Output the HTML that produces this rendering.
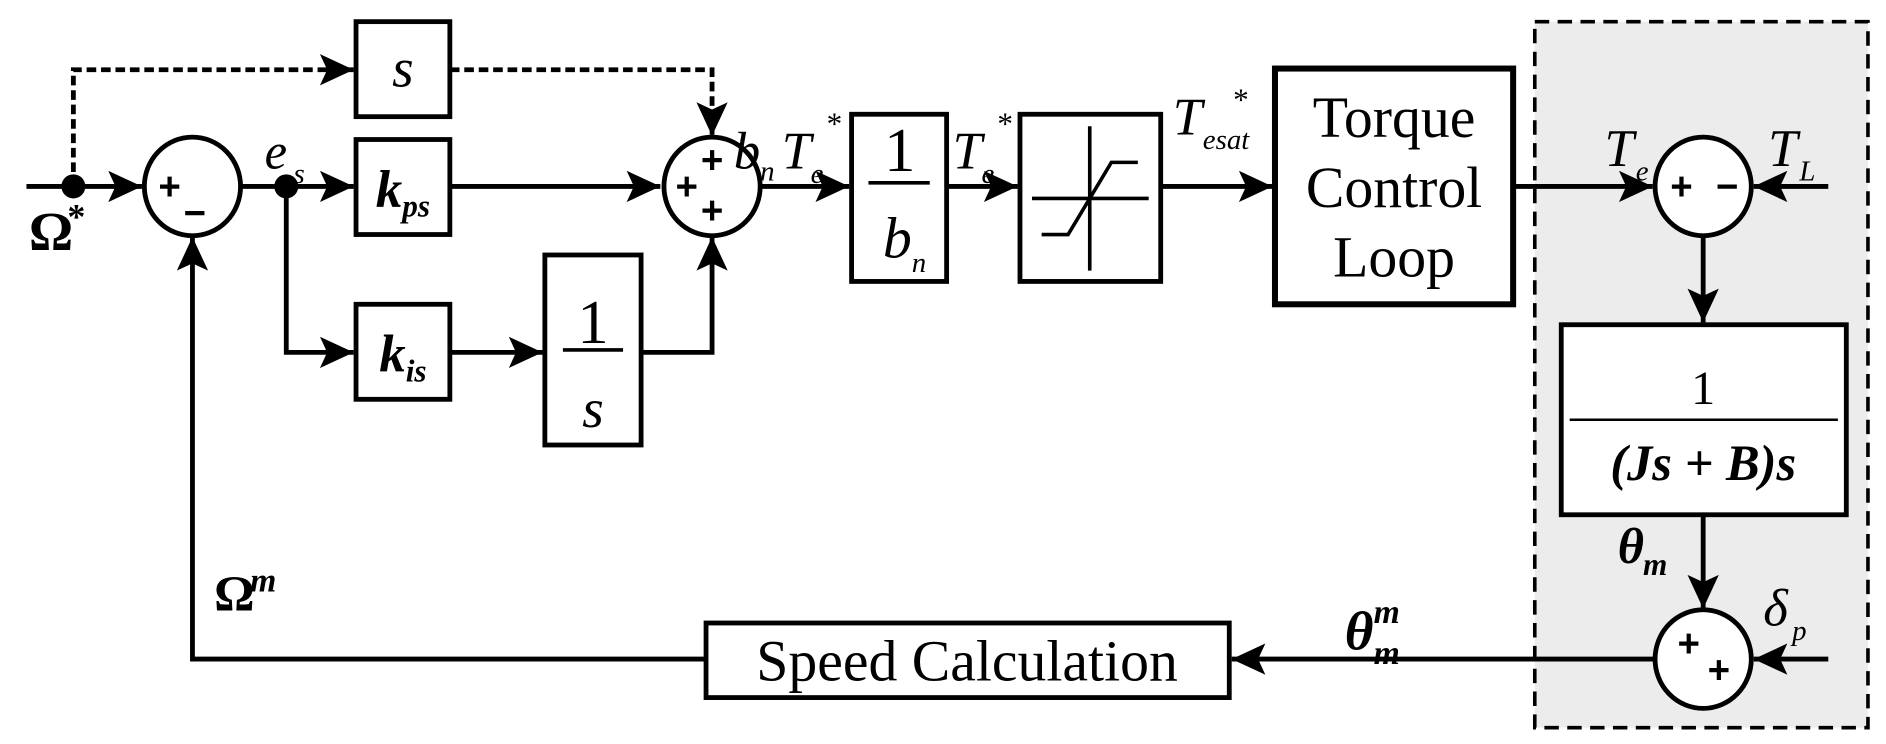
<!DOCTYPE html>
<html><head><style>html,body{margin:0;padding:0;background:#fff;}svg{display:block}</style></head>
<body>
<svg width="1886" height="744" viewBox="0 0 1568 618.6" preserveAspectRatio="none" xmlns="http://www.w3.org/2000/svg" font-family="'Liberation Serif', serif">
<defs>
<marker id="a" markerWidth="30" markerHeight="26" refX="28" refY="13" orient="auto" markerUnits="userSpaceOnUse">
<path d="M0,0 L28,13 L0,26 L6,13 Z" fill="#000"/>
</marker>
</defs>
<rect x="1276" y="18" width="277" height="587" fill="#ececec" stroke="#000" stroke-width="3" stroke-dasharray="12,7"/>
<g stroke="#000" stroke-width="4" fill="none">
<line x1="22" y1="155" x2="118" y2="155" marker-end="url(#a)"/>
<path d="M61,155 V58 H294" stroke-dasharray="8,4" marker-end="url(#a)"/>
<path d="M374,58 H592 V113" stroke-dasharray="8,4" marker-end="url(#a)"/>
<line x1="200" y1="155" x2="294" y2="155" marker-end="url(#a)"/>
<line x1="374" y1="155" x2="549" y2="155" marker-end="url(#a)"/>
<path d="M238,155 V293 H294" marker-end="url(#a)"/>
<line x1="374" y1="293" x2="451" y2="293" marker-end="url(#a)"/>
<path d="M533,293 H592 V197" marker-end="url(#a)"/>
<line x1="632" y1="155" x2="706" y2="155" marker-end="url(#a)"/>
<line x1="787" y1="155" x2="846" y2="155" marker-end="url(#a)"/>
<line x1="965" y1="155" x2="1058" y2="155" marker-end="url(#a)"/>
<line x1="1258" y1="155" x2="1374" y2="155" marker-end="url(#a)"/>
<line x1="1520" y1="155" x2="1458" y2="155" marker-end="url(#a)"/>
<line x1="1416" y1="197" x2="1416" y2="268" marker-end="url(#a)"/>
<line x1="1416" y1="428" x2="1416" y2="506" marker-end="url(#a)"/>
<line x1="1520" y1="548" x2="1458" y2="548" marker-end="url(#a)"/>
<line x1="1376" y1="548" x2="1024" y2="548" marker-end="url(#a)"/>
<path d="M587,548 H160 V197" marker-end="url(#a)"/>
<ellipse cx="160" cy="155" rx="40" ry="41" fill="#fff"/>
<ellipse cx="592" cy="155" rx="40" ry="41" fill="#fff"/>
<ellipse cx="1416" cy="155" rx="40" ry="41" fill="#fff"/>
<ellipse cx="1416" cy="548" rx="40" ry="41" fill="#fff"/>
<rect x="296" y="18" width="78" height="79" fill="#fff"/>
<rect x="296" y="116" width="78" height="79" fill="#fff"/>
<rect x="296" y="253" width="78" height="79" fill="#fff"/>
<rect x="453" y="212" width="80" height="158" fill="#fff"/>
<rect x="708" y="95" width="79" height="139" fill="#fff"/>
<rect x="848" y="95" width="117" height="139" fill="#fff"/>
<rect x="1060" y="57" width="198" height="196" fill="#fff" stroke-width="5"/>
<rect x="1298" y="270" width="237" height="158" fill="#fff"/>
<rect x="587" y="518" width="435" height="62" fill="#fff"/>
<path d="M906,105 V225 M858,165 H955 M866,195 H888 L924,135 H946" stroke-width="3"/>
<line x1="468" y1="291" x2="518" y2="291" stroke-width="3"/>
<line x1="722" y1="152" x2="773" y2="152" stroke-width="3"/>
<line x1="1305" y1="349" x2="1528" y2="349" stroke-width="2"/>
</g>
<circle cx="61" cy="155" r="10" fill="#000"/>
<circle cx="238" cy="155" r="10" fill="#000"/>
<g font-family="'Liberation Sans', sans-serif" font-weight="bold" font-size="32" text-anchor="middle">
<text x="141" y="166">+</text><text x="162" y="188">−</text>
<text x="571" y="166">+</text><text x="592" y="144">+</text><text x="592" y="186">+</text>
<text x="1398" y="166">+</text><text x="1436" y="166">−</text>
<text x="1404" y="546">+</text><text x="1429" y="568">+</text>
</g>
<g font-size="48" text-anchor="middle" fill="#000">
<text x="1159" y="114">Torque</text>
<text x="1159" y="172">Control</text>
<text x="1159" y="230">Loop</text>
<text x="804" y="566">Speed Calculation</text>
<text x="493" y="285" font-size="52">1</text>
<text x="748" y="142" font-size="52">1</text>
<text x="1416" y="336" font-size="40">1</text>
<text x="1416" y="399" font-size="42" font-style="italic" font-weight="bold">(Js + B)s</text>
</g>
<g font-style="italic" fill="#000">
<text x="335" y="72" font-size="46" text-anchor="middle">s</text>
<text x="335" y="172" font-size="44" font-weight="bold" text-anchor="middle">k<tspan font-size="26" dy="8">ps</tspan></text>
<text x="335" y="309" font-size="44" font-weight="bold" text-anchor="middle">k<tspan font-size="26" dy="8">is</tspan></text>
<text x="493" y="355" font-size="46" text-anchor="middle">s</text>
<text x="734" y="214" font-size="48">b<tspan font-size="24" dy="12">n</tspan></text>
<text x="220" y="140" font-size="42">e</text><text x="244" y="152" font-size="24">s</text>
<text x="24" y="208" font-size="46" font-style="normal" font-weight="bold">Ω</text><text x="56" y="190" font-size="30" font-style="normal" font-weight="bold">*</text>
<text x="610" y="140" font-size="44">b</text><text x="632" y="150" font-size="24">n</text>
<text x="650" y="140" font-size="44">T</text><text x="674" y="152" font-size="24">e</text><text x="686" y="112" font-size="26">*</text>
<text x="792" y="140" font-size="44">T</text><text x="816" y="152" font-size="24">e</text><text x="828" y="112" font-size="26">*</text>
<text x="975" y="112" font-size="44">T</text><text x="1000" y="124" font-size="24">esat</text><text x="1024" y="92" font-size="26">*</text>
<text x="1334" y="138" font-size="44">T</text><text x="1360" y="150" font-size="24">e</text>
<text x="1470" y="138" font-size="44">T</text><text x="1496" y="150" font-size="24">L</text>
<text x="1345" y="468" font-size="42" font-weight="bold">θ</text><text x="1366" y="478" font-size="26" font-weight="bold">m</text>
<text x="1466" y="520" font-size="44">δ</text><text x="1490" y="532" font-size="24">p</text>
<text x="1118" y="540" font-size="46" font-weight="bold">θ</text><text x="1142" y="552" font-size="28" font-weight="bold">m</text><text x="1142" y="518" font-size="28" font-weight="bold">m</text>
<text x="178" y="508" font-size="42" font-style="normal" font-weight="bold">Ω</text><text x="208" y="492" font-size="28" font-weight="bold">m</text>
</g>
</svg>
</body></html>
